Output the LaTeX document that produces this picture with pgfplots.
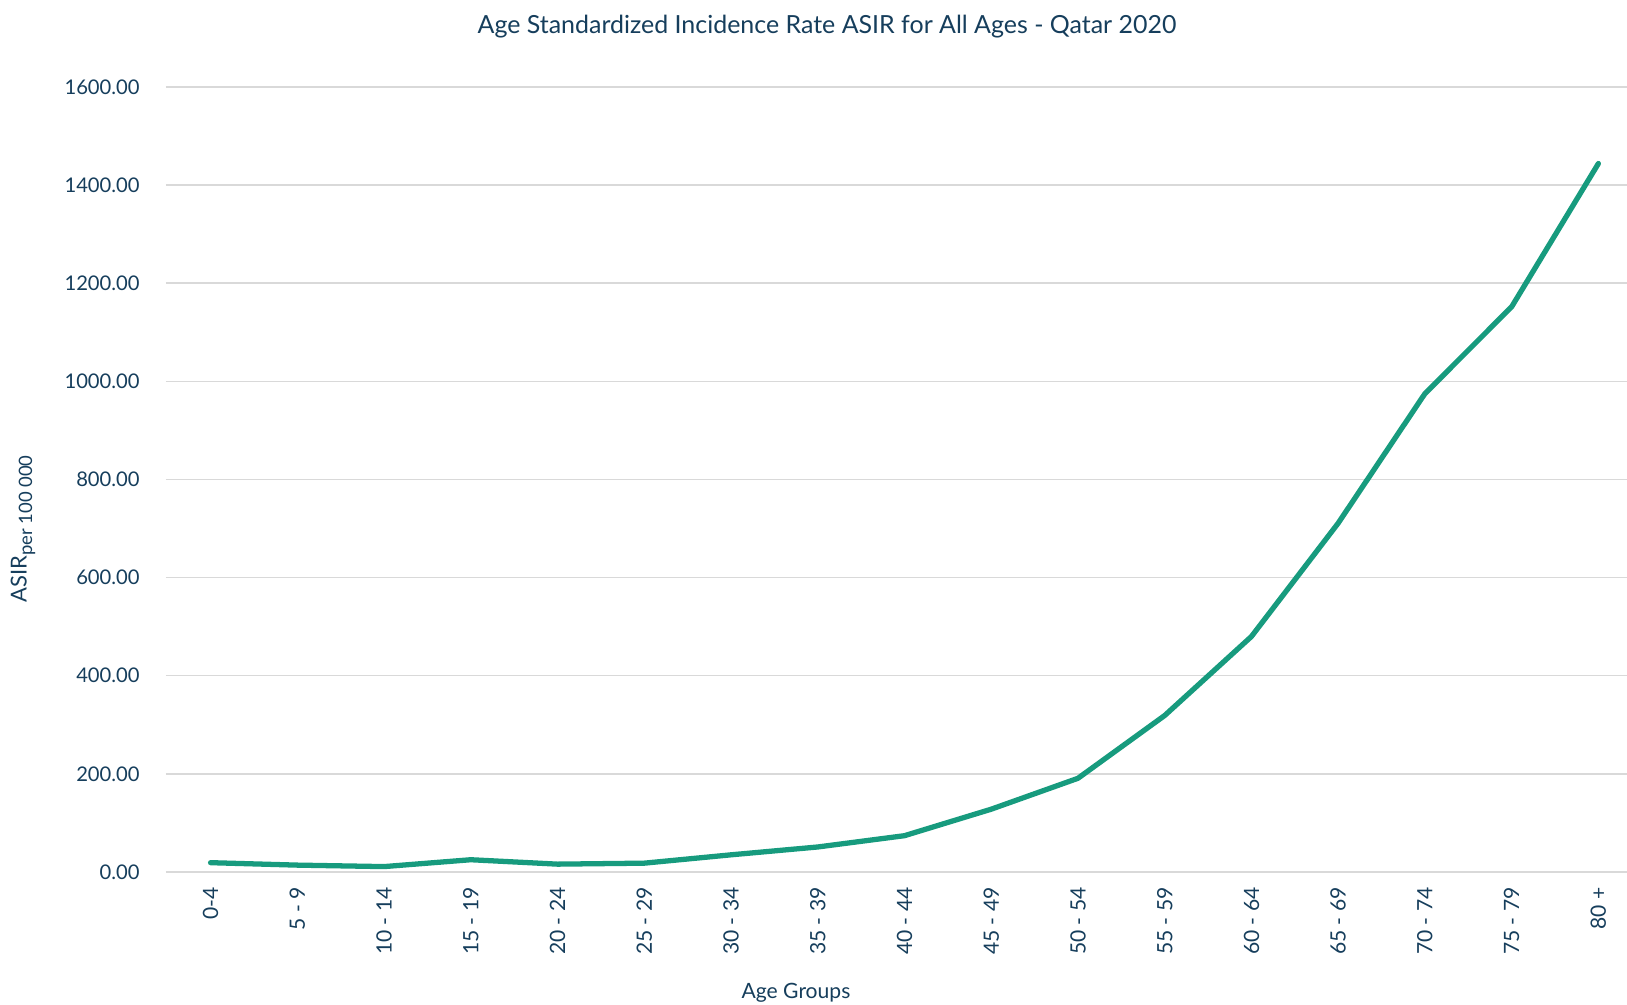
\documentclass[border=0pt]{standalone}
\usepackage{fontspec}
\setmainfont{Lato}
\usepackage{pgfplots}
\pgfplotsset{compat=1.18}
\definecolor{navy}{HTML}{163E5C}
\definecolor{teal}{HTML}{179B7E}
\definecolor{gridgray}{HTML}{D9D9D9}

\pgfplotstableread{
x  asir
0  19
1  14
2  11
3  25
4  16
5  18
6  35
7  51
8  74
9  128
10 191
11 319
12 480
13 711
14 975
15 1152
16 1444
}\asirdata

\begin{document}
\begin{tikzpicture}
\useasboundingbox (-3.32,-2.66) rectangle (29.22,17.44);
\begin{axis}[
  scale only axis,
  width=29.22cm, height=15.7cm,
  at={(0,0)}, anchor=south west,
  xmin=-0.514, xmax=16.33,
  ymin=0, ymax=1600,
  ytick={0,200,...,1600},
  xtick={0,...,16},
  xticklabels={0-4,5 - 9,10 - 14,15 - 19,20 - 24,25 - 29,30 - 34,35 - 39,40 - 44,45 - 49,50 - 54,55 - 59,60 - 64,65 - 69,70 - 74,75 - 79,80 +},
  axis line style={draw=none},
  major tick length=0pt,
  ymajorgrids,
  grid style={gridgray, line width=0.85pt},
  tick label style={font=\fontsize{11.5}{13}\selectfont, text=navy, inner sep=0pt},
  yticklabel shift=0.52cm,
  xticklabel shift=0.3cm,
  xticklabel style={rotate=90, anchor=east, font=\fontsize{12}{14}\selectfont},
  yticklabel style={anchor=east},
  y tick label style={/pgf/number format/.cd, fixed, fixed zerofill, precision=2, 1000 sep={}, assume math mode=true},
  clip=false,
]
\addplot[teal, line width=3pt, line join=round, line cap=round] table[x=x, y=asir] {\asirdata};
\end{axis}
\node[text=navy, font=\fontsize{14.2}{16}\selectfont] at (13.22,16.9) {Age Standardized Incidence Rate ASIR for All Ages - Qatar 2020};
\node[text=navy, font=\fontsize{12.5}{14}\selectfont, rotate=90] at (-2.86,6.86) {ASIR\raisebox{-0.25em}{\fontsize{10.5}{12}\selectfont per 100 000}};
\node[text=navy, font=\fontsize{12}{14}\selectfont] at (12.6,-2.42) {Age Groups};
\end{tikzpicture}
\end{document}
